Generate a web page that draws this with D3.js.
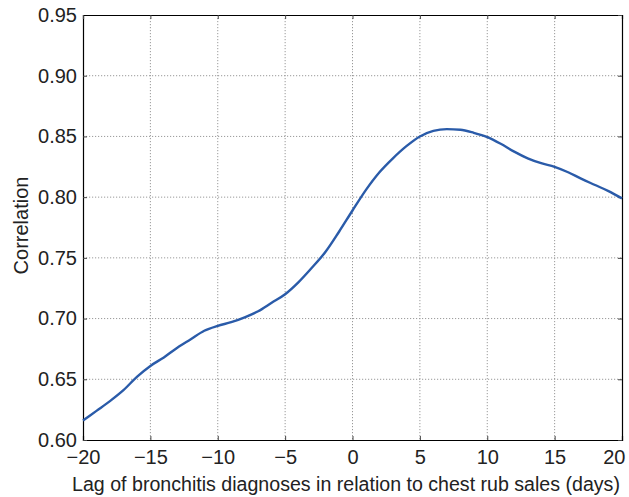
<!DOCTYPE html>
<html lang="en">
<head>
  <meta charset="UTF-8">
  <title>Correlation by lag</title>
  <script src="https://cdn.jsdelivr.net/npm/d3@7"></script>
  <style>
    html, body { margin: 0; padding: 0; background: #fff; }
    svg { display: block; font-family: 'Liberation Sans', Arial, sans-serif; }
    .grid line { stroke: #9a9a9a; stroke-dasharray: 1.2, 1.8; }
  </style>
</head>
<body>
  <svg id="chart" width="629" height="497"></svg>
  <script>
    // data
    var lags = [-20, -19, -18, -17, -16, -15, -14, -13, -12, -11, -10, -9, -8, -7, -6, -5, -4, -3, -2, -1,
      0, 1, 2, 3, 4, 5, 6, 7, 8, 9, 10, 11, 12, 13, 14, 15, 16, 17, 18, 19, 20]
    var corr = [0.616, 0.624, 0.632, 0.641, 0.652, 0.661, 0.668, 0.676, 0.683, 0.690, 0.694, 0.697, 0.701, 0.706, 0.713, 0.720, 0.730, 0.742, 0.755, 0.7715,
      0.789, 0.806, 0.8205, 0.832, 0.842, 0.850, 0.8545, 0.856, 0.8555, 0.853, 0.8495, 0.844, 0.8375, 0.832, 0.828, 0.825, 0.8205, 0.815, 0.810, 0.805, 0.799]
    var xTicks = [-20, -15, -10, -5, 0, 5, 10, 15, 20]
    var yTicks = [0.60, 0.65, 0.70, 0.75, 0.80, 0.85, 0.90, 0.95]

    var margin = { top: 15, right: 7, bottom: 57, left: 83 }
    var width = 629 - margin.left - margin.right
    var height = 497 - margin.top - margin.bottom

    var svg = d3.select('#chart')
    var g = svg.append('g').attr('transform', 'translate(' + margin.left + ',' + margin.top + ')')

    var x = d3.scaleLinear().domain([-20, 20]).range([0, width])
    var y = d3.scaleLinear().domain([0.60, 0.95]).range([height, 0])

    function minus(s) { return s.replace('-', '\u2212') }

    // grid
    var grid = g.append('g').attr('class', 'grid')
    grid.selectAll('.vx').data(xTicks.slice(1, -1)).enter().append('line')
      .attr('x1', d => x(d)).attr('x2', d => x(d)).attr('y1', 0).attr('y2', height)
    grid.selectAll('.hy').data(yTicks.slice(1, -1)).enter().append('line')
      .attr('x1', 0).attr('x2', width).attr('y1', d => y(d)).attr('y2', d => y(d))

    // axes with inward ticks
    var tl = 4
    var xAxis = g.append('g').attr('transform', 'translate(0,' + height + ')')
      .call(d3.axisBottom(x).tickValues(xTicks).tickSize(-tl).tickPadding(tl + 6).tickFormat(d => minus(d3.format('d')(d))))
    g.append('g')
      .call(d3.axisLeft(y).tickValues(yTicks).tickSize(-tl).tickPadding(tl + 2).tickFormat(d3.format('.2f')))
    g.append('g')
      .call(d3.axisTop(x).tickValues(xTicks).tickSize(-tl).tickFormat(''))
    g.append('g').attr('transform', 'translate(' + width + ',0)')
      .call(d3.axisRight(y).tickValues(yTicks).tickSize(-tl).tickFormat(''))

    svg.selectAll('.domain').attr('stroke', '#000').attr('stroke-width', 1.2)
    svg.selectAll('.tick line').attr('stroke', '#444')
    svg.selectAll('.tick text').attr('fill', '#222').style('font-size', '20px')
    // last x label sits just inside the window edge
    xAxis.selectAll('.tick text').filter(d => d === 20).attr('text-anchor', 'end').attr('dx', 3)

    // curve
    var line = d3.line()
      .x((d, i) => x(lags[i]))
      .y(d => y(d))
      .curve(d3.curveMonotoneX)
    g.append('path')
      .datum(corr)
      .attr('fill', 'none')
      .attr('stroke', '#2a5ba9')
      .attr('stroke-width', 2.4)
      .attr('d', line)

    // labels
    svg.append('text')
      .attr('x', 346)
      .attr('y', 491)
      .attr('text-anchor', 'middle')
      .attr('fill', '#222')
      .style('font-size', '19.6px')
      .text('Lag of bronchitis diagnoses in relation to chest rub sales (days)')
    svg.append('text')
      .attr('transform', 'translate(28,' + (margin.top + height / 2 - 2) + ') rotate(-90)')
      .attr('text-anchor', 'middle')
      .attr('fill', '#222')
      .style('font-size', '20px')
      .text('Correlation')
  </script>
</body>
</html>
